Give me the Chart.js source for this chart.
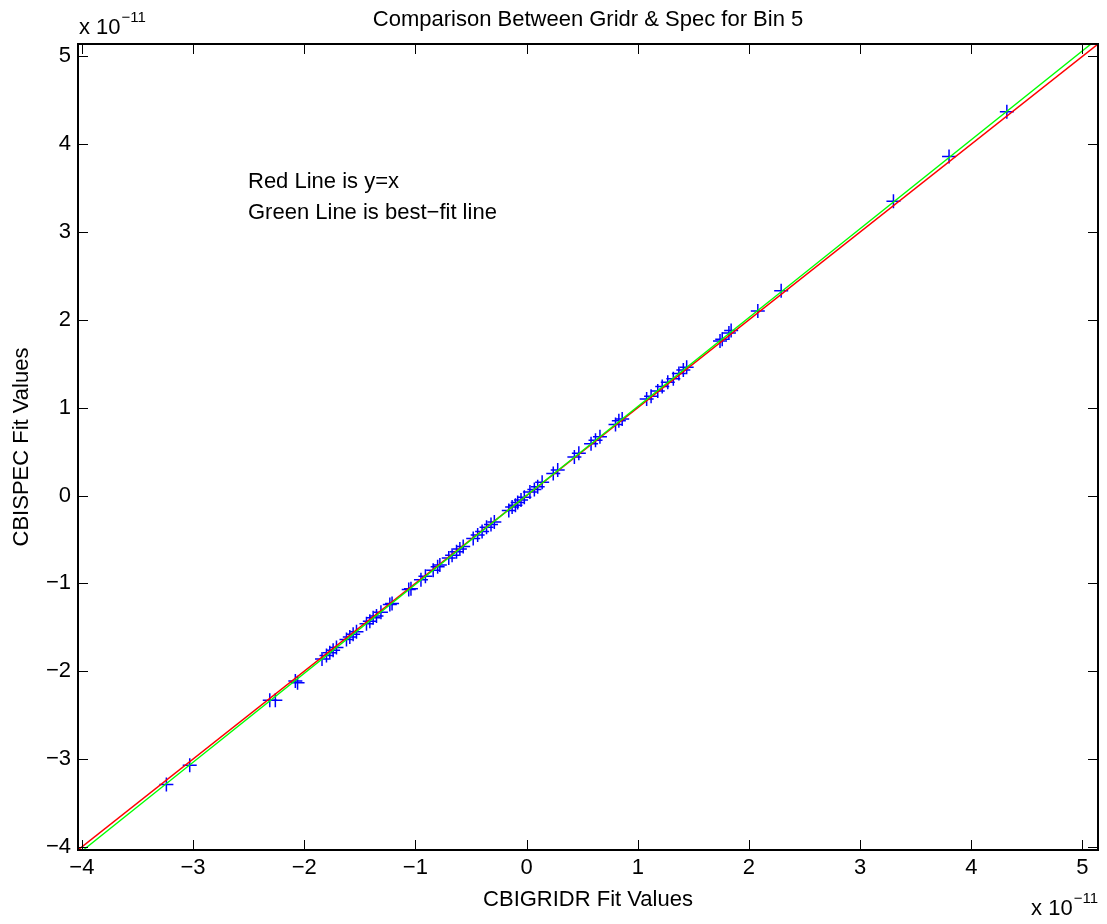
<!DOCTYPE html>
<html>
<head>
<meta charset="utf-8">
<title>Comparison Between Gridr &amp; Spec for Bin 5</title>
<script src="https://cdn.jsdelivr.net/npm/chart.js@4.4.1/dist/chart.umd.min.js"></script>
<style>
  html, body { margin: 0; padding: 0; background: #ffffff; }
  canvas { display: block; }
</style>
</head>
<body>
<canvas id="chart" width="1107" height="924"></canvas>
<script>
// Fit values, in units of 1e-11
const xRange = [-4.035, 5.14];
const yRange = [-4.035, 5.14];
const tickValues = [-4, -3, -2, -1, 0, 1, 2, 3, 4, 5];

const gridrFit = [
  -3.24, -3.03, -2.31, -2.26, -2.08, -2.06,
  -1.84, -1.80, -1.77, -1.74, -1.71,
  -1.62, -1.59, -1.56, -1.53,
  -1.44, -1.41, -1.38, -1.35, -1.31,
  -1.23, -1.21, -1.06, -1.04, -0.95, -0.91,
  -0.84, -0.80, -0.78,
  -0.70, -0.67, -0.63, -0.60, -0.57,
  -0.48, -0.44, -0.40, -0.36, -0.32, -0.29,
  -0.16, -0.13, -0.10, -0.08, -0.05, -0.02,
  0.03, 0.07, 0.10, 0.14, 0.24, 0.28, 0.43, 0.47,
  0.58, 0.62, 0.66, 0.80, 0.83, 0.86,
  1.08, 1.12, 1.18, 1.22, 1.27, 1.32, 1.37, 1.41, 1.44,
  1.74, 1.76, 1.82, 1.84, 2.08, 2.29,
  3.30, 3.80, 4.32
];
const specFit = [
  -3.29, -3.07, -2.33, -2.33, -2.11, -2.13,
  -1.86, -1.82, -1.79, -1.76, -1.73,
  -1.64, -1.61, -1.58, -1.55,
  -1.46, -1.43, -1.39, -1.37, -1.33,
  -1.24, -1.23, -1.07, -1.06, -0.96, -0.92,
  -0.85, -0.81, -0.79,
  -0.71, -0.68, -0.64, -0.61, -0.58,
  -0.49, -0.45, -0.41, -0.36, -0.33, -0.30,
  -0.17, -0.13, -0.11, -0.08, -0.05, -0.02,
  0.04, 0.07, 0.10, 0.15, 0.25, 0.29, 0.44, 0.48,
  0.59, 0.63, 0.67, 0.81, 0.85, 0.87,
  1.10, 1.13, 1.19, 1.24, 1.29, 1.33, 1.39, 1.43, 1.46,
  1.76, 1.78, 1.85, 1.88, 2.10, 2.33,
  3.35, 3.86, 4.37
];

// y = x reference line and the least-squares line, end to end across the axes
const identityX = [-4.035, 5.14];
const identityY = [-4.035, 5.14];
const bestFitX = [-3.987, 5.077];
const bestFitY = [-4.035, 5.14];

const notes = ['Red Line is y=x', 'Green Line is best\u2212fit line'];
const exponentText = ['x 10', '\u221211'];

const FONT = '"Liberation Sans", Arial, Helvetica, sans-serif';
const TEXT_SIZE = 22;
const SUP_SIZE = 15;

const toPoints = (xs, ys) => xs.map((v, i) => ({ x: v, y: ys[i] }));
const fmtTick = v => (v < 0 ? '\u2212' + Math.abs(v) : String(v));

// Box frame, inward tick marks on all four sides, notes and exponent labels
const framePlugin = {
  id: 'frame',
  afterDraw(chart) {
    const { ctx, chartArea: a, scales: { x, y } } = chart;
    ctx.save();
    ctx.strokeStyle = '#000000';
    ctx.lineWidth = 1;
    ctx.beginPath();
    tickValues.forEach(v => {
      const px = Math.round(x.getPixelForValue(v)) + 0.5;
      ctx.moveTo(px, a.bottom); ctx.lineTo(px, a.bottom - 10);
      ctx.moveTo(px, a.top); ctx.lineTo(px, a.top + 10);
      const py = Math.round(y.getPixelForValue(v)) + 0.5;
      ctx.moveTo(a.left, py); ctx.lineTo(a.left + 10, py);
      ctx.moveTo(a.right, py); ctx.lineTo(a.right - 10, py);
    });
    ctx.stroke();
    ctx.lineWidth = 2;
    ctx.strokeRect(a.left, a.top, a.right - a.left, a.bottom - a.top);

    ctx.fillStyle = '#000000';
    ctx.textAlign = 'left';
    ctx.textBaseline = 'alphabetic';
    ctx.font = TEXT_SIZE + 'px ' + FONT;
    ctx.fillText(notes[0], a.left + 170, 188);
    ctx.fillText(notes[1], a.left + 170, 219);

    // exponent for the y axis, above its top-left corner
    ctx.font = TEXT_SIZE + 'px ' + FONT;
    const baseW = ctx.measureText(exponentText[0]).width;
    ctx.fillText(exponentText[0], a.left + 1, 34);
    ctx.font = SUP_SIZE + 'px ' + FONT;
    const supW = ctx.measureText(exponentText[1]).width;
    ctx.fillText(exponentText[1], a.left + 2 + baseW, 22);

    // exponent for the x axis, below its bottom-right corner
    const sx = a.right - supW;
    ctx.fillText(exponentText[1], sx, 903);
    ctx.font = TEXT_SIZE + 'px ' + FONT;
    ctx.fillText(exponentText[0], sx - 1 - baseW, 915);
    ctx.restore();
  }
};

new Chart(document.getElementById('chart'), {
  type: 'scatter',
  data: {
    datasets: [
      {
        label: 'best-fit line',
        data: toPoints(bestFitX, bestFitY),
        showLine: true,
        borderColor: '#00ff00',
        borderWidth: 1.4,
        pointRadius: 0,
        pointHoverRadius: 0
      },
      {
        label: 'y=x',
        data: toPoints(identityX, identityY),
        showLine: true,
        borderColor: '#ff0000',
        borderWidth: 1.4,
        pointRadius: 0,
        pointHoverRadius: 0
      },
      {
        label: 'CBISPEC vs CBIGRIDR',
        data: toPoints(gridrFit, specFit),
        showLine: false,
        pointStyle: 'cross',
        pointRadius: 7,
        pointHoverRadius: 7,
        pointBorderColor: '#0000ff',
        pointBorderWidth: 1.5,
        pointBackgroundColor: '#0000ff'
      }
    ]
  },
  options: {
    responsive: false,
    animation: false,
    devicePixelRatio: 1,
    events: [],
    layout: { padding: { left: 0, right: 9, top: 0, bottom: 0 } },
    plugins: {
      legend: { display: false },
      tooltip: { enabled: false },
      title: {
        display: true,
        text: 'Comparison Between Gridr & Spec for Bin 5',
        fullSize: false,
        color: '#000000',
        font: { family: FONT, size: TEXT_SIZE, weight: 'normal', lineHeight: 1.2 },
        padding: { top: 6.8, bottom: 10.8 }
      }
    },
    scales: {
      x: {
        type: 'linear',
        min: xRange[0],
        max: xRange[1],
        afterBuildTicks: s => { s.ticks = tickValues.map(v => ({ value: v })); },
        afterFit: s => { s.height = 74; },
        grid: { display: false, drawTicks: false },
        border: { display: false },
        ticks: {
          autoSkip: false,
          maxRotation: 0,
          padding: 5,
          color: '#000000',
          font: { family: FONT, size: TEXT_SIZE, lineHeight: 1.2 },
          callback: v => fmtTick(v)
        },
        title: {
          display: true,
          text: 'CBIGRIDR Fit Values',
          color: '#000000',
          font: { family: FONT, size: TEXT_SIZE, lineHeight: 1.2 },
          padding: { top: 0, bottom: 10.8 }
        }
      },
      y: {
        type: 'linear',
        min: yRange[0],
        max: yRange[1],
        afterBuildTicks: s => { s.ticks = tickValues.map(v => ({ value: v })); },
        afterFit: s => { s.width = 78; },
        grid: { display: false, drawTicks: false },
        border: { display: false },
        ticks: {
          autoSkip: false,
          padding: 7,
          color: '#000000',
          font: { family: FONT, size: TEXT_SIZE, lineHeight: 1.2 },
          callback: v => fmtTick(v)
        },
        title: {
          display: true,
          text: 'CBISPEC Fit Values',
          color: '#000000',
          font: { family: FONT, size: TEXT_SIZE, lineHeight: 1.2 },
          padding: { top: 8.8, bottom: 0 }
        }
      }
    }
  },
  plugins: [framePlugin]
});
</script>
</body>
</html>
